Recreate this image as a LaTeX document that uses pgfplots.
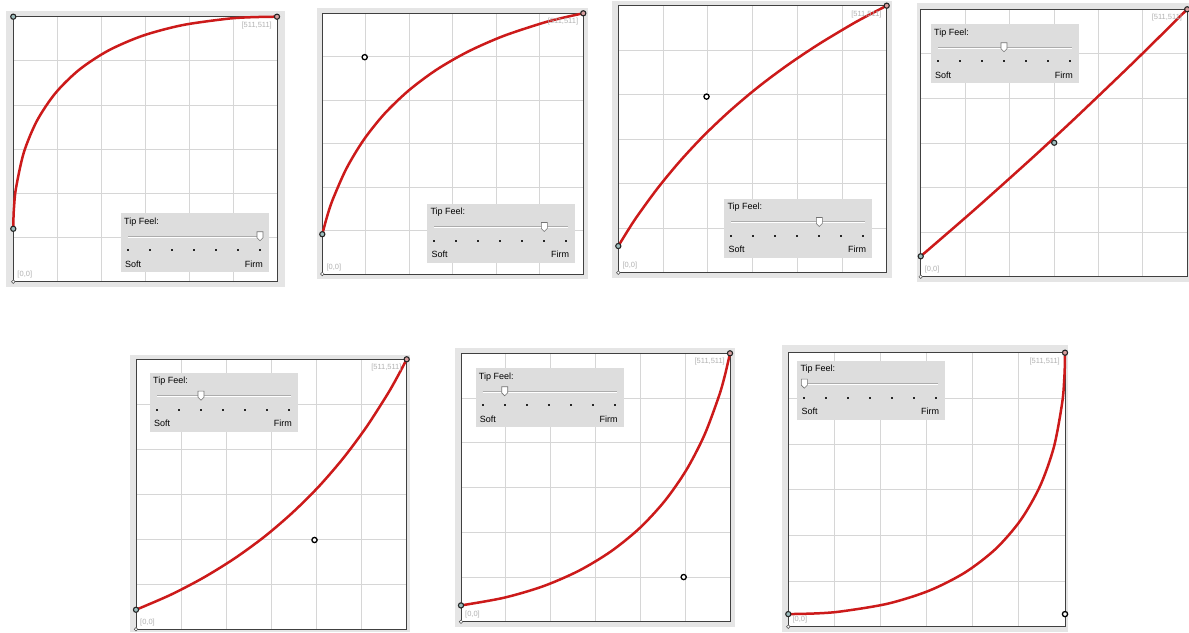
\documentclass[border=0pt]{standalone}
\usepackage{fontspec}
\setmainfont{Liberation Sans}
\usepackage{pgfplots}
\pgfplotsset{compat=1.18}

\definecolor{panelbg}{HTML}{E5E5E5}
\definecolor{boxbg}{HTML}{DDDDDD}
\definecolor{gridc}{HTML}{D6D6D6}
\definecolor{penred}{HTML}{CC1A1A}
\definecolor{knob}{HTML}{9DBDBD}
\definecolor{endknob}{HTML}{D8A0A0}

\newcommand\uifont{\fontsize{9}{10}\selectfont}

\pgfplotsset{
  tipfeel/.style={
    scale only axis,
    xmin=0, xmax=511, ymin=0, ymax=511,
    xtick={85.17,170.33,255.5,340.67,425.83},
    ytick={85.17,170.33,255.5,340.67,425.83},
    xticklabels={}, yticklabels={},
    major tick length=0pt,
    grid=major,
    grid style={gridc, line width=0.9pt},
    axis line style={black!75, line width=0.9pt},
    axis background/.style={fill=white},
    clip=false,
  },
  pencurve/.style={penred, line width=2.5pt, smooth, no marks},
  knot/.style={only marks, mark=*, mark size=2.6pt,
    mark options={draw=black!85, fill=knob, line width=1.1pt}},
  endknot/.style={only marks, mark=*, mark size=2.6pt,
    mark options={draw=black!85, fill=endknob, line width=1.1pt}},
  ctrl/.style={only marks, mark=*, mark size=2.6pt,
    mark options={draw=black, fill=white, line width=1.3pt}},
  origin/.style={only marks, mark=*, mark size=1.8pt,
    mark options={draw=black!70, fill=white, line width=0.5pt}},
}

% corner labels inside each axis
\newcommand\cornerlabels{%
  \node[anchor=north east, inner sep=0pt, text=gray!60, font=\fontsize{7.5}{8}\selectfont]
    at (axis cs:511,511) [xshift=-5pt, yshift=-5pt] {[511,511]};
  \node[anchor=south west, inner sep=0pt, text=gray!60, font=\fontsize{7.5}{8}\selectfont]
    at (axis cs:0,0) [xshift=4pt, yshift=3pt] {[0,0]};
  \addplot[origin] coordinates {(0,0)};
}

% Tip Feel slider box: left, top (pixels, y down), thumb position 0..6
\newcommand\tipbox[3]{%
  \begin{scope}[shift={(#1,#2)}]
    \fill[boxbg] (0,0) rectangle (148,59);
    \node[anchor=west, inner sep=0pt, font=\uifont] at (3,8.5) {Tip Feel:};
    \draw[gray!65, line width=0.8pt] (7,22.8) -- (141,22.8);
    \draw[white, line width=0.7pt] (7,23.8) -- (141,23.8);
    \foreach \i in {0,...,6}
      \fill[black!85] ({7+22*\i-1},36) rectangle ++(2,2);
    \draw[fill=white, draw=black!55, line width=0.6pt]
      ({7+22*#3-3},18.5) -- ++(6,0) -- ++(0,6) -- ++(-3,3) -- ++(-3,-3) -- cycle;
    \node[anchor=west, inner sep=0pt, font=\uifont] at (4,50.5) {Soft};
    \node[anchor=east, inner sep=0pt, font=\uifont] at (142,50.5) {Firm};
  \end{scope}}

\begin{document}
\begin{tikzpicture}
\useasboundingbox (0,0) rectangle (1189pt,632pt);

% grey window backgrounds
\begin{scope}[yshift=632pt, x=1pt, y=-1pt]
  \fill[panelbg] (6,11) rectangle (285,287);
  \fill[panelbg] (316.7,8.3) rectangle (588.3,279.3);
  \fill[panelbg] (612,1) rectangle (892,278);
  \fill[panelbg] (916.7,3.3) rectangle (1189,281.7);
  \fill[panelbg] (130,355) rectangle (410,632);
  \fill[panelbg] (455,348) rectangle (735,627);
  \fill[panelbg] (781.7,345) rectangle (1068,632);
\end{scope}

% 1: firmest
\begin{axis}[tipfeel, at={(13.3pt,350.3pt)}, anchor=south west, width=263.7pt, height=265pt]
\addplot[pencurve] coordinates {(0,102) (0.2,118.2) (1.3,141.9) (5.1,179.7) (20.4,249.2)
  (46.0,310.6) (81.8,363.8) (127.8,408.8) (184.0,445.6) (250.4,474.2) (327.0,494.6)
  (413.9,506.9) (461.2,510.0) (511,511)};
\cornerlabels
\addplot[knot] coordinates {(0,102) (0,511)};
\addplot[endknot] coordinates {(511,511)};
\end{axis}

% 2
\begin{axis}[tipfeel, at={(322.3pt,358pt)}, anchor=south west, width=261pt, height=260.7pt]
\addplot[pencurve] coordinates {(0,78) (9.2,112.1) (20.0,144.8) (47.0,206.3) (80.9,262.7)
  (121.6,313.9) (169.3,359.8) (223.8,400.5) (285.3,435.9) (353.6,466.1) (428.8,491.2)
  (469.1,501.8) (511,511)};
\cornerlabels
\addplot[knot] coordinates {(0,78)};
\addplot[ctrl] coordinates {(83,425)};
\addplot[endknot] coordinates {(511,511)};
\end{axis}

% 3
\begin{axis}[tipfeel, at={(618.3pt,359.3pt)}, anchor=south west, width=268.4pt, height=267pt]
\addplot[pencurve] coordinates {(0,51) (17.3,79.3) (35.3,107.1) (74.2,160.8) (116.6,212.5)
  (162.4,262.0) (211.8,309.1) (264.6,354.0) (321.0,396.5) (380.8,436.8) (444.1,475.1)
  (477.2,493.3) (511,511)};
\cornerlabels
\addplot[knot] coordinates {(0,51)};
\addplot[ctrl] coordinates {(168,337)};
\addplot[endknot] coordinates {(511,511)};
\end{axis}

% 4: middle
\begin{axis}[tipfeel, at={(920.7pt,355.3pt)}, anchor=south west, width=266.5pt, height=267.4pt]
\addplot[pencurve] coordinates {(0,39) (102.3,127.3) (204.7,218.7) (255.8,265.5)
  (306.9,313.1) (408.9,410.5) (511,511)};
\cornerlabels
\addplot[knot] coordinates {(0,39) (256,256)};
\addplot[endknot] coordinates {(511,511)};
\end{axis}

% 5
\begin{axis}[tipfeel, at={(136pt,2.7pt)}, anchor=south west, width=270.7pt, height=270pt]
\addplot[pencurve] coordinates {(0,37) (65.8,65.5) (128.2,98.2) (187.5,135.1) (243.6,176.2)
  (296.3,221.6) (345.8,271.0) (391.9,324.7) (434.8,382.6) (474.6,444.7) (493.2,477.4)
  (511,511)};
\cornerlabels
\addplot[knot] coordinates {(0,37)};
\addplot[ctrl] coordinates {(337,169)};
\addplot[endknot] coordinates {(511,511)};
\end{axis}

% 6
\begin{axis}[tipfeel, at={(461pt,10.3pt)}, anchor=south west, width=269pt, height=268.4pt]
\addplot[pencurve] coordinates {(0,31) (81.2,45.5) (155.8,67.4) (223.7,96.9) (284.8,133.8)
  (339.3,178.1) (387.0,229.8) (428.1,288.9) (462.4,355.4) (490.0,429.5) (501.4,469.4)
  (511,511)};
\cornerlabels
\addplot[knot] coordinates {(0,31)};
\addplot[ctrl] coordinates {(423,85)};
\addplot[endknot] coordinates {(511,511)};
\end{axis}

% 7: softest
\begin{axis}[tipfeel, at={(788.3pt,5.3pt)}, anchor=south west, width=276.7pt, height=274pt]
\addplot[pencurve] coordinates {(0,23.5) (49.8,24.7) (97.1,28.4) (184.0,43.0) (260.6,67.4)
  (327.0,101.5) (383.3,145.4) (429.2,199.0) (465.0,262.4) (490.6,335.5) (505.9,418.4)
  (509.7,463.5) (510.8,491.7) (511,511)};
\cornerlabels
\addplot[knot] coordinates {(0,23.5)};
\addplot[ctrl] coordinates {(511,23.5)};
\addplot[endknot] coordinates {(511,511)};
\end{axis}

% slider boxes
\begin{scope}[yshift=632pt, x=1pt, y=-1pt]
  \tipbox{121}{213.3}{6}
  \tipbox{427.3}{204}{5}
  \tipbox{724.3}{199}{4}
  \tipbox{931}{24.3}{3}
  \tipbox{150}{372.7}{2}
  \tipbox{475.7}{368.3}{1}
  \tipbox{797.3}{360.7}{0}
\end{scope}
\end{tikzpicture}
\end{document}
